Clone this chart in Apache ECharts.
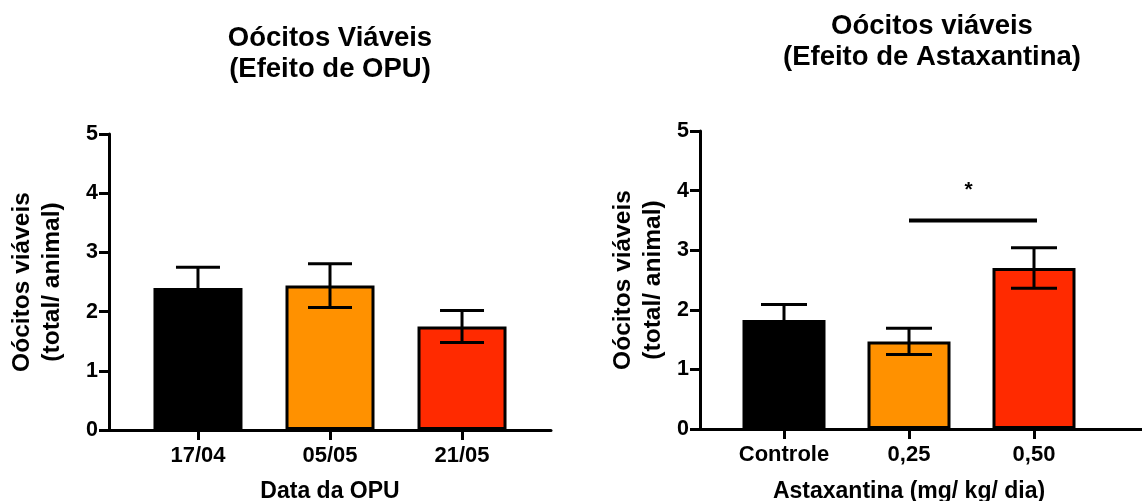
<!DOCTYPE html>
<html>
<head>
<meta charset="utf-8">
<script src="https://cdn.jsdelivr.net/npm/echarts@6/dist/echarts.min.js"></script>
<style>
  html, body { margin: 0; padding: 0; background: #fff; }
  #chart { width: 1142px; height: 501px; }
</style>
</head>
<body>
<div id="chart"></div>
<script>
// Panel 1: viable oocytes per OPU session (mean ± SEM)
const opuCategories = ['17/04', '05/05', '21/05'];
const opuMeans = [2.40, 2.44, 1.75];
const opuSem = [0.35, 0.37, 0.27];

// Panel 2: viable oocytes per astaxanthin dose (mean ± SEM)
const doseCategories = ['Controle', '0,25', '0,50'];
const doseMeans = [1.83, 1.47, 2.70];
const doseSem = [0.26, 0.22, 0.34];

// Significance bracket between dose groups 1 and 2
const sigPairs = [[1, 2]];
const sigLevel = [3.5];
const sigMarks = ['*'];

const barColors = ['#000000', '#FF9100', '#FF2A00'];
const yTicks = [0, 1, 2, 3, 4, 5];

const FONT = '"Liberation Sans", Arial, Helvetica, sans-serif';

function barData(means) {
  return means.map((m, i) => ({ value: [i, m], itemStyle: { color: barColors[i] } }));
}
function errData(means, sems) {
  return means.map((m, i) => [i, m, sems[i]]);
}

function errorRender(cap) {
  return function (params, api) {
    const x = api.value(0), m = api.value(1), s = api.value(2);
    const hi = api.coord([x, m + s]);
    const lo = api.coord([x, m - s]);
    const cx = hi[0];
    const st = { stroke: '#000', lineWidth: 3 };
    return {
      type: 'group',
      children: [
        { type: 'line', shape: { x1: cx, y1: hi[1], x2: cx, y2: lo[1] }, style: st },
        { type: 'line', shape: { x1: cx - cap / 2, y1: hi[1], x2: cx + cap / 2, y2: hi[1] }, style: st },
        { type: 'line', shape: { x1: cx - cap / 2, y1: lo[1], x2: cx + cap / 2, y2: lo[1] }, style: st }
      ]
    };
  };
}

function xAxisFor(gridIndex, cats, min, max, nameText, nameGap, namePad) {
  return {
    type: 'value', gridIndex, min, max,
    name: nameText, nameLocation: 'middle', nameGap, nameMoveOverlap: false,
    nameTextStyle: { fontFamily: FONT, fontWeight: 'bold', fontSize: 23, color: '#000', padding: namePad },
    axisLine: { show: true, onZero: false, lineStyle: { color: '#000', width: 3 } },
    axisTick: { show: true, customValues: cats.map((c, i) => i), length: 10, lineStyle: { color: '#000', width: 3 } },
    axisLabel: {
      customValues: cats.map((c, i) => i),
      formatter: v => cats[Math.round(v)] || '',
      fontFamily: FONT, fontWeight: 'bold', fontSize: 22, color: '#000', margin: 15
    },
    splitLine: { show: false }
  };
}

function yAxisFor(gridIndex, nameGap) {
  return {
    type: 'value', gridIndex, min: yTicks[0], max: yTicks[yTicks.length - 1], interval: 1,
    name: 'Oócitos viáveis\n(total/ animal)', nameLocation: 'middle', nameGap, nameMoveOverlap: false,
    nameTextStyle: { fontFamily: FONT, fontWeight: 'bold', fontSize: 24.5, color: '#000', lineHeight: 30 },
    axisLine: { show: true, onZero: false, lineStyle: { color: '#000', width: 3 } },
    axisTick: { show: true, length: 10, lineStyle: { color: '#000', width: 3 } },
    axisLabel: { fontFamily: FONT, fontWeight: 'bold', fontSize: 21.5, color: '#000', margin: 11 },
    splitLine: { show: false }
  };
}

const chart = echarts.init(document.getElementById('chart'), null, { renderer: 'canvas' });

chart.setOption({
  backgroundColor: '#ffffff',
  animation: false,
  title: [
    {
      text: 'Oócitos Viáveis\n(Efeito de OPU)', left: 330, top: 23, textAlign: 'center', padding: 0,
      textStyle: { fontFamily: FONT, fontWeight: 'bold', fontSize: 27.5, lineHeight: 31, color: '#000' }
    },
    {
      text: 'Oócitos viáveis\n(Efeito de Astaxantina)', left: 932, top: 11, textAlign: 'center', padding: 0,
      textStyle: { fontFamily: FONT, fontWeight: 'bold', fontSize: 27.5, lineHeight: 31, color: '#000' }
    }
  ],
  grid: [
    { left: 109, top: 134, width: 442, height: 296, outerBoundsMode: 'none', containLabel: false },
    { left: 700, top: 131, width: 442, height: 298, outerBoundsMode: 'none', containLabel: false }
  ],
  xAxis: [
    xAxisFor(0, opuCategories, -0.674, 2.674, 'Data da OPU', 50, 0),
    xAxisFor(1, doseCategories, -0.672, 2.864, 'Astaxantina (mg/ kg/ dia)', 51, [0, 24, 0, 0])
  ],
  yAxis: [yAxisFor(0, 42), yAxisFor(1, 32)],
  series: [
    {
      type: 'bar', xAxisIndex: 0, yAxisIndex: 0, barWidth: 89,
      itemStyle: { borderColor: '#000', borderWidth: 3 },
      data: barData(opuMeans)
    },
    {
      type: 'custom', xAxisIndex: 0, yAxisIndex: 0, z: 5,
      renderItem: errorRender(44), data: errData(opuMeans, opuSem)
    },
    {
      type: 'bar', xAxisIndex: 1, yAxisIndex: 1, barWidth: 83,
      itemStyle: { borderColor: '#000', borderWidth: 3 },
      data: barData(doseMeans)
    },
    {
      type: 'custom', xAxisIndex: 1, yAxisIndex: 1, z: 5,
      renderItem: errorRender(46), data: errData(doseMeans, doseSem)
    },
    {
      type: 'custom', xAxisIndex: 1, yAxisIndex: 1, z: 5,
      data: sigPairs.map((p, i) => [p[0], p[1], sigLevel[i], i]),
      renderItem: function (params, api) {
        const a = api.coord([api.value(0), api.value(2)]);
        const b = api.coord([api.value(1), api.value(2)]);
        const mark = sigMarks[api.value(3)];
        return {
          type: 'group',
          children: [
            { type: 'line', shape: { x1: a[0], y1: a[1], x2: b[0] + 3, y2: b[1] }, style: { stroke: '#000', lineWidth: 4 } },
            {
              type: 'text', x: (a[0] + b[0]) / 2 - 3, y: a[1] - 20,
              style: { text: mark, fontFamily: FONT, fontWeight: 'bold', fontSize: 21, fill: '#000', align: 'center', verticalAlign: 'bottom' }
            }
          ]
        };
      }
    }
  ]
});
</script>
</body>
</html>
